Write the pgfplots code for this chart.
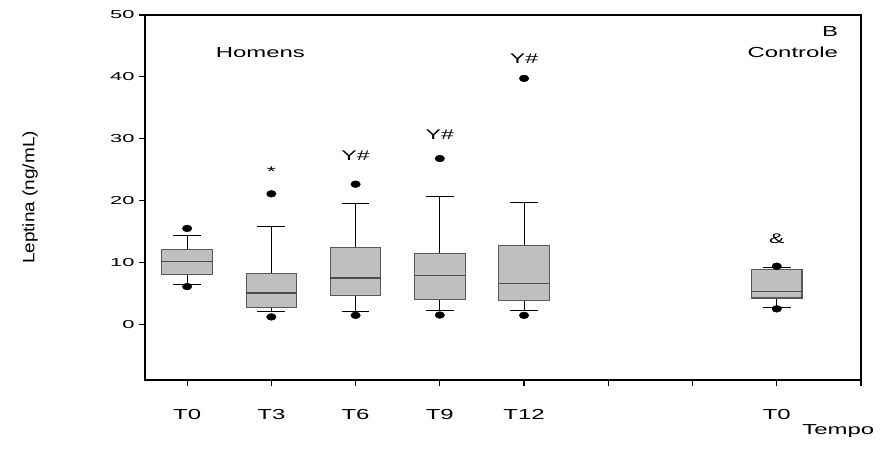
\documentclass[border=0pt]{standalone}
\usepackage{pgfplots}
\pgfplotsset{compat=1.18}
\usepgfplotslibrary{statistics}
\usepackage{fontspec}
\setmainfont{Liberation Sans}[FakeStretch=1.65]
\newfontfamily\numfont{Liberation Sans}[FakeStretch=1.9]
\newfontfamily\labfont{Liberation Sans}[FakeStretch=1.15]
\begin{document}
\begin{tikzpicture}
\useasboundingbox (-145bp,-72bp) rectangle (740bp,380bp);
\begin{axis}[
  scale only axis, width=716bp, height=365bp,
  xmin=-0.5, xmax=8, ymin=-9, ymax=50,
  axis line style={black, line width=1.3bp},
  xtick={0,1,2,3,4,5,6,7,8},
  xticklabels={T0,T3,T6,T9,T12,,,T0,},
  ytick={0,10,20,30,40,50},
  tick align=outside, major tick length=6bp,
  xtick pos=bottom, ytick pos=left,
  tick style={black, line width=1.2bp},
  /pgf/number format/assume math mode=true,
  yticklabel style={font=\numfont\fontsize{11.5bp}{12bp}\selectfont, xshift=-1bp},
  xticklabel style={font=\fontsize{14.5bp}{16bp}\selectfont, yshift=-20bp},
  clip=false,
  boxplot/draw direction=y,
  boxplot/every box/.style={draw=black!65, fill=black!25, line width=1.1bp},
  boxplot/every whisker/.style={black, line width=0.8bp},
  boxplot/every median/.style={black!70, line width=1.2bp},
  boxplot/box extend=0.6,
  boxplot/whisker extend=0.33,
]
\addplot[boxplot prepared={draw position=0, lower whisker=6.4, lower quartile=8.1, median=10.1, upper quartile=12.1, upper whisker=14.3}] coordinates {};
\addplot[boxplot prepared={draw position=1, lower whisker=2.05, lower quartile=2.7, median=5.05, upper quartile=8.2, upper whisker=15.8}] coordinates {};
\addplot[boxplot prepared={draw position=2, lower whisker=2.05, lower quartile=4.6, median=7.5, upper quartile=12.35, upper whisker=19.6}] coordinates {};
\addplot[boxplot prepared={draw position=3, lower whisker=2.2, lower quartile=4.0, median=7.9, upper quartile=11.4, upper whisker=20.65}] coordinates {};
\addplot[boxplot prepared={draw position=4, lower whisker=2.27, lower quartile=3.8, median=6.6, upper quartile=12.7, upper whisker=19.75}] coordinates {};
\addplot[boxplot prepared={draw position=7, lower whisker=2.7, lower quartile=4.26, median=5.34, upper quartile=8.85, upper whisker=9.27}] coordinates {};
\addplot[only marks, mark=*, mark size=3.4bp, mark options={black, fill=black, xscale=1.4}] coordinates {
 (0,15.5) (0,6.1)
 (1,21.1) (1,1.2)
 (2,22.65) (2,1.45)
 (3,26.8) (3,1.5)
 (4,39.75) (4,1.45)
 (7,9.4) (7,2.5)
};
\node[font=\fontsize{14bp}{16bp}\selectfont] at (axis cs:1,24.6) {*};
\node[font=\fontsize{14bp}{16bp}\selectfont] at (axis cs:2,27.3) {Y\#};
\node[font=\fontsize{14bp}{16bp}\selectfont] at (axis cs:3,30.7) {Y\#};
\node[font=\fontsize{14bp}{16bp}\selectfont] at (axis cs:4,43) {Y\#};
\node[font=\fontsize{14bp}{16bp}\selectfont] at (axis cs:7,13.9) {\&};
\node[font=\fontsize{14.5bp}{16bp}\selectfont] at (axis cs:0.87,43.9) {Homens};
\node[font=\fontsize{14.5bp}{16bp}\selectfont, anchor=east, inner sep=0pt] at (axis cs:7.73,47.3) {B};
\node[font=\fontsize{14.5bp}{16bp}\selectfont, anchor=east, inner sep=0pt] at (axis cs:7.73,43.9) {Controle};
\node[font=\labfont\fontsize{16.5bp}{19bp}\selectfont, rotate=90, anchor=center] at (axis description cs:-0.1606,0.5) {Leptina (ng/mL)};
\node[font=\fontsize{14.5bp}{16bp}\selectfont, anchor=center] at (axis cs:7.73,-17.3) {Tempo};
\end{axis}
\end{tikzpicture}
\end{document}
